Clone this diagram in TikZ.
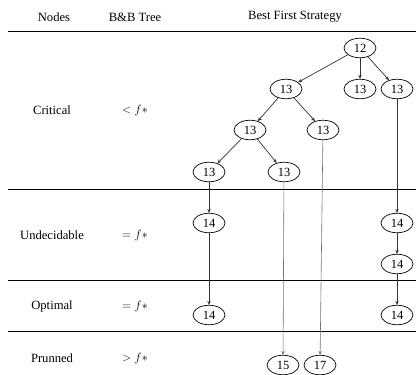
\documentclass[tikz,border=0pt]{standalone}
\usepackage{fontspec}
\setmainfont{Liberation Serif}
\usetikzlibrary{shapes.geometric,arrows.meta}
\begin{document}
\begin{tikzpicture}[x=1pt,y=-1pt,
  bb/.style={ellipse,draw,line width=0.7pt,minimum width=32pt,minimum height=19.5pt,inner sep=0pt,font=\fontsize{12.5}{14}\selectfont},
  lbl/.style={font=\fontsize{12.6}{15}\selectfont},
  rule/.style={line width=0.9pt},
  edge/.style={line width=0.7pt,draw=black!80,-{Stealth[length=4pt,width=3.5pt]}},
  faint/.style={line width=0.6pt,draw=black!55,-{Stealth[length=4pt,width=3.5pt]}}]
\useasboundingbox (0,0) rectangle (416,375);
% column headings
\node[lbl] (hnodes) at (54,17) {Nodes};
\node[lbl] (htree) at (135,17) {B\&B Tree};
\node[lbl] (hbest) at (295,17) {Best First Strategy};
% horizontal rules between rows
\draw[rule] (8,31.5) -- (416,31.5);
\draw[rule] (8,189) -- (416,189);
\draw[rule] (8,280.5) -- (416,280.5);
\draw[rule] (8,331) -- (416,331);
% row labels
\node[lbl] (rcrit) at (52,110) {Critical};
\node[lbl] (ccrit) at (135,110) {$<f*$};
\node[lbl] (rund) at (52,235) {Undecidable};
\node[lbl] (cund) at (135,235) {$=f*$};
\node[lbl] (ropt) at (52,306) {Optimal};
\node[lbl] (copt) at (135,306) {$=f*$};
\node[lbl] (rpru) at (52,358) {Prunned};
\node[lbl] (cpru) at (135,358) {$>f*$};
% search tree
\node[bb] (r) at (360,48) {12};
\node[bb] (a) at (286,89) {13};
\node[bb] (b) at (360,89) {13};
\node[bb] (c) at (397,89) {13};
\node[bb] (a1) at (250,130) {13};
\node[bb] (a2) at (323,130) {13};
\node[bb] (a11) at (209,172) {13};
\node[bb] (a12) at (284,172) {13};
\node[bb] (u1) at (209,223) {14};
\node[bb] (u2) at (397,223) {14};
\node[bb] (u3) at (397,264) {14};
\node[bb] (o1) at (209,315) {14};
\node[bb] (o2) at (397,315) {14};
\node[bb] (p1) at (283,365) {15};
\node[bb] (p2) at (320,365) {17};
\draw[edge] (r) -- (a);
\draw[edge] (r) -- (b);
\draw[edge] (r) -- (c);
\draw[edge] (a) -- (a1);
\draw[edge] (a) -- (a2);
\draw[edge] (a1) -- (a11);
\draw[edge] (a1) -- (a12);
\draw[edge] (a11) -- (u1);
\draw[edge] (u1) -- (o1);
\draw[edge] (c) -- (u2);
\draw[edge] (u2) -- (u3);
\draw[edge] (u3) -- (o2);
\draw[faint] (a12) -- (p1);
\draw[faint] (a2) -- (p2);
\end{tikzpicture}
\end{document}
